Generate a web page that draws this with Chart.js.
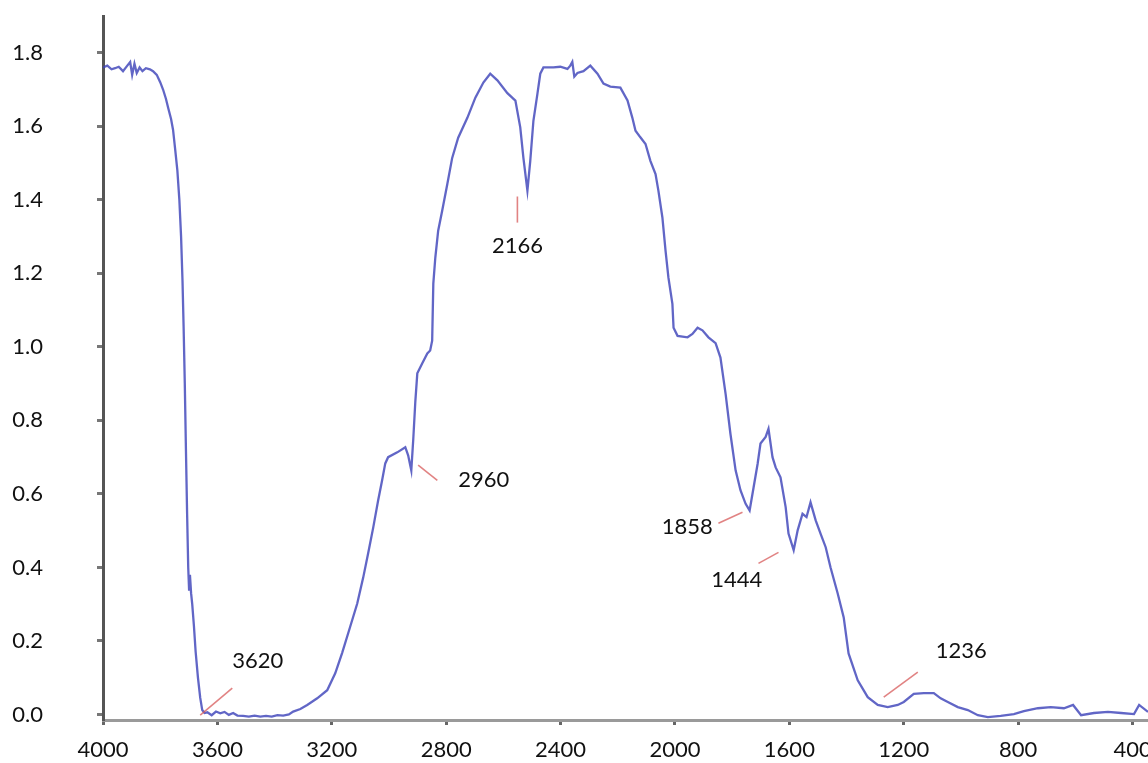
<!DOCTYPE html>
<html>
<head>
<meta charset="utf-8">
<script src="https://cdn.jsdelivr.net/npm/chart.js@4.4.1/dist/chart.umd.min.js"></script>
<style>
  html, body { margin: 0; padding: 0; background: #fff; }
  canvas { display: block; }
</style>
</head>
<body>
<canvas id="irChart" width="1148" height="763"></canvas>
<script>
// wavenumber (cm-1)
const wavenumbers = [
  4000, 3985, 3970, 3958, 3945, 3930, 3915, 3905, 3898, 3890, 3882, 3872, 3862, 3850, 3836, 3825,
  3812, 3800, 3790, 3780, 3772, 3762, 3755, 3748, 3740, 3733, 3727, 3722, 3718, 3714, 3710, 3706,
  3702, 3699, 3696, 3692, 3688, 3682, 3676, 3668, 3660, 3653, 3645, 3635, 3620, 3605, 3590, 3575,
  3560, 3545, 3530, 3510, 3490, 3470, 3450, 3430, 3410, 3390, 3370, 3350, 3335, 3310, 3286, 3251,
  3216, 3188, 3164, 3136, 3111, 3090, 3073, 3055, 3038, 3024, 3013, 3003, 2971, 2943, 2933, 2922,
  2915, 2908, 2901, 2884, 2866, 2856, 2849, 2845, 2838, 2828, 2814, 2796, 2779, 2758, 2726, 2698,
  2670, 2646, 2621, 2586, 2558, 2541, 2530, 2516, 2506, 2495, 2481, 2471, 2460, 2425, 2401, 2376,
  2366, 2359, 2352, 2341, 2320, 2296, 2271, 2250, 2226, 2191, 2166, 2149, 2138, 2121, 2103, 2086,
  2068, 2058, 2044, 2033, 2023, 2009, 2005, 1991, 1956, 1939, 1921, 1904, 1883, 1858, 1841, 1823,
  1806, 1788, 1771, 1753, 1739, 1725, 1711, 1701, 1683, 1673, 1659, 1648, 1631, 1613, 1603, 1585,
  1571, 1554, 1540, 1526, 1508, 1491, 1473, 1456, 1431, 1410, 1393, 1361, 1326, 1291, 1256, 1221,
  1200, 1165, 1130, 1095, 1071, 1046, 1011, 976, 941, 906, 861, 815, 780, 731, 686, 640,
  608, 580, 535, 486, 440, 395, 377, 346
];
// absorbance
const absorbance = [
  1.760, 1.765, 1.755, 1.758, 1.762, 1.750, 1.765, 1.775, 1.740, 1.770, 1.745, 1.760, 1.750, 1.758, 1.755, 1.750,
  1.740, 1.720, 1.700, 1.675, 1.650, 1.620, 1.590, 1.540, 1.480, 1.400, 1.300, 1.180, 1.050, 0.900, 0.720, 0.550,
  0.400, 0.340, 0.380, 0.330, 0.300, 0.240, 0.170, 0.100, 0.045, 0.012, 0.004, 0.006, -0.002, 0.008, 0.003, 0.007,
  -0.001, 0.004, -0.003, -0.004, -0.006, -0.003, -0.006, -0.004, -0.006, -0.002, -0.003, 0.000, 0.008, 0.015, 0.026, 0.044,
  0.066, 0.112, 0.167, 0.238, 0.302, 0.373, 0.438, 0.509, 0.582, 0.637, 0.683, 0.700, 0.713, 0.727, 0.705, 0.664,
  0.750, 0.850, 0.928, 0.955, 0.982, 0.990, 1.017, 1.172, 1.243, 1.316, 1.370, 1.443, 1.514, 1.569, 1.623, 1.678,
  1.719, 1.743, 1.725, 1.690, 1.670, 1.597, 1.514, 1.425, 1.506, 1.615, 1.688, 1.743, 1.760, 1.760, 1.762, 1.756,
  1.765, 1.775, 1.735, 1.745, 1.750, 1.765, 1.743, 1.716, 1.708, 1.705, 1.670, 1.623, 1.588, 1.570, 1.552, 1.506,
  1.470, 1.425, 1.352, 1.262, 1.189, 1.117, 1.052, 1.030, 1.026, 1.035, 1.052, 1.045, 1.026, 1.010, 0.971, 0.872,
  0.763, 0.664, 0.610, 0.573, 0.555, 0.618, 0.682, 0.737, 0.755, 0.777, 0.700, 0.672, 0.645, 0.564, 0.492, 0.447,
  0.501, 0.546, 0.537, 0.577, 0.528, 0.492, 0.455, 0.400, 0.329, 0.264, 0.166, 0.093, 0.047, 0.026, 0.020, 0.026,
  0.034, 0.056, 0.058, 0.058, 0.044, 0.034, 0.020, 0.012, -0.002, -0.007, -0.004, 0.001, 0.009, 0.017, 0.020, 0.017,
  0.026, -0.002, 0.004, 0.007, 0.004, 0.001, 0.026, 0.007
];

const xTicks = [4000, 3600, 3200, 2800, 2400, 2000, 1600, 1200, 800, 400];
const yTicks = [0.0, 0.2, 0.4, 0.6, 0.8, 1.0, 1.2, 1.4, 1.6, 1.8];

// peak labels: text, red marker from (x1,y1) to (x2,y2), label anchor (lx,ly) in data units
const peakLabels = ['3620', '2960', '2166', '1858', '1444', '1236'];
const markX1 = [3660, 2898, 2551, 1848, 1708, 1270];
const markY1 = [-0.002, 0.678, 1.409, 0.520, 0.411, 0.047];
const markX2 = [3548, 2831, 2551, 1764, 1638, 1151];
const markY2 = [0.072, 0.637, 1.338, 0.550, 0.441, 0.115];
const labelX = [3548, 2758, 2551, 1868, 1784, 1088];
const labelY = [0.145, 0.637, 1.275, 0.509, 0.365, 0.172];
const labelAlign = ['left', 'left', 'center', 'right', 'center', 'left'];

const FONT = 'Lato, "Open Sans", sans-serif';

const peakPlugin = {
  id: 'peakPlugin',
  afterDatasetsDraw(chart) {
    const ctx = chart.ctx;
    const xs = chart.scales.x, ys = chart.scales.y;
    ctx.save();
    peakLabels.forEach((txt, i) => {
      ctx.strokeStyle = 'rgba(215, 90, 90, 0.75)';
      ctx.lineWidth = 1.6;
      ctx.beginPath();
      ctx.moveTo(xs.getPixelForValue(markX1[i]), ys.getPixelForValue(markY1[i]));
      ctx.lineTo(xs.getPixelForValue(markX2[i]), ys.getPixelForValue(markY2[i]));
      ctx.stroke();
      ctx.fillStyle = '#111';
      ctx.font = '22px ' + FONT;
      ctx.textAlign = labelAlign[i];
      ctx.textBaseline = 'middle';
      ctx.fillText(txt, xs.getPixelForValue(labelX[i]), ys.getPixelForValue(labelY[i]));
    });
    ctx.restore();
  }
};

const points = wavenumbers.map((w, i) => ({ x: w, y: absorbance[i] }));

new Chart(document.getElementById('irChart').getContext('2d'), {
  type: 'line',
  data: {
    datasets: [{
      data: points,
      borderColor: 'rgba(62, 68, 185, 0.82)',
      borderWidth: 2.3,
      pointRadius: 0,
      tension: 0,
      fill: false
    }]
  },
  options: {
    responsive: false,
    animation: false,
    devicePixelRatio: 1,
    layout: { padding: { top: 16, right: 0, left: 0, bottom: 0 } },
    plugins: { legend: { display: false }, tooltip: { enabled: false } },
    scales: {
      x: {
        type: 'linear',
        reverse: true,
        min: 346,
        max: 4000,
        afterBuildTicks: s => { s.ticks = xTicks.map(v => ({ value: v })); },
        afterFit: s => { s.height = 43; s.paddingLeft = 0; s.paddingRight = 0; },
        grid: { drawOnChartArea: false, drawTicks: true, tickLength: 5, tickWidth: 3, color: '#666' },
        border: { display: true, color: '#9a9a9a', width: 3 },
        ticks: {
          padding: 12,
          color: '#111',
          font: { family: FONT, size: 22 },
          maxRotation: 0,
          autoSkip: false,
          callback: v => String(v)
        }
      },
      y: {
        type: 'linear',
        min: -0.015,
        max: 1.9,
        afterBuildTicks: s => { s.ticks = yTicks.map(v => ({ value: v })); },
        afterFit: s => { s.width = 103; s.paddingTop = 0; s.paddingBottom = 0; },
        grid: { drawOnChartArea: false, drawTicks: true, tickLength: 6, tickWidth: 3, color: '#777' },
        border: { display: true, color: '#555', width: 3 },
        ticks: {
          padding: 54,
          color: '#111',
          font: { family: FONT, size: 22 },
          autoSkip: false,
          callback: v => v.toFixed(1)
        }
      }
    }
  },
  plugins: [peakPlugin]
});
</script>
</body>
</html>
